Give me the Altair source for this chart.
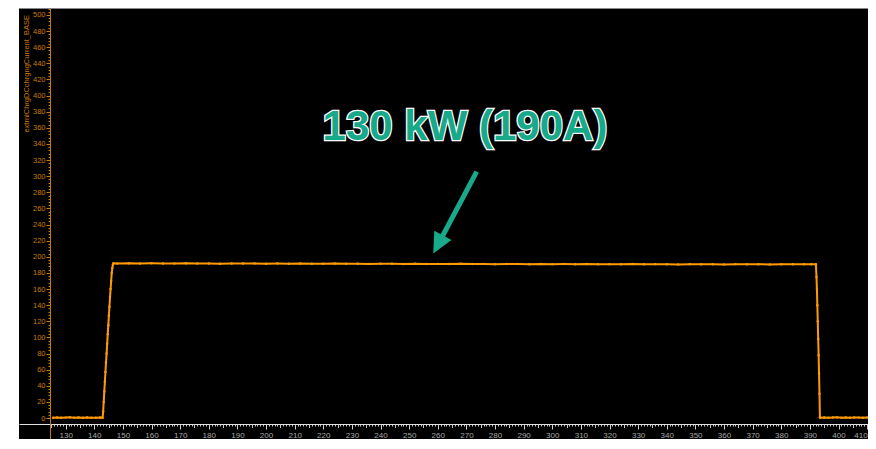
import altair as alt
import pandas as pd

# ---- data ----
time_s = [125.6, 127, 128.5, 130, 131.5, 133, 134.5, 136, 137.5, 139, 140.5, 142, 142.9,
          143.1, 143.3, 143.5, 143.7, 143.9, 144.1, 144.3, 144.5, 144.7, 144.9, 145.1, 145.3,
          145.5, 145.7, 145.9, 146.1, 146.3, 146.5, 146.7,
          148, 152, 156, 160, 164, 168, 172, 176, 180, 184, 188, 192, 196, 200, 204, 208, 212,
          216, 220, 224, 228, 232, 236, 240, 244, 248, 252, 256, 260, 264, 268, 272, 276, 280,
          284, 288, 292, 296, 300, 304, 308, 312, 316, 320, 324, 328, 332, 336, 340, 344, 348,
          352, 356, 360, 364, 368, 372, 376, 380, 384, 388, 390.5, 392.1,
          392.3, 392.45, 392.6, 392.75, 392.9, 393.05, 393.2, 393.35, 393.5,
          393.6, 395, 396.5, 398, 399.5, 401, 402.5, 404, 405.5, 407, 408.5, 410]
current_a = [0.3, 0.6, 0.2, 0.5, 0.8, 0.3, 0.6, 0.2, 0.7, 0.4, 0.3, 0.6, 0.2,
             8, 20, 33, 45, 57, 69, 80, 92, 104, 115, 127, 138,
             150, 160, 170, 180, 186, 190, 192,
             191.8, 192.0, 191.7, 191.9, 191.8, 191.6, 191.9, 191.7, 191.8, 191.5, 191.7, 191.6,
             191.8, 191.5, 191.6, 191.4, 191.7, 191.5, 191.4, 191.6, 191.3, 191.5, 191.2, 191.4,
             191.3, 191.1, 191.3, 191.0, 191.2, 191.1, 191.3, 191.0, 191.2, 190.9, 191.1, 191.0,
             190.8, 191.1, 190.9, 191.0, 190.8, 191.0, 190.7, 190.9, 190.8, 191.0, 190.7, 190.9,
             190.8, 190.6, 190.9, 190.7, 190.8, 190.6, 190.9, 190.7, 190.8, 190.6, 190.8, 190.7,
             190.9, 190.7, 190.8,
             175, 160, 140, 120, 98, 78, 55, 30, 1,
             0.4, 0.7, 0.3, 0.6, 0.8, 0.4, 0.6, 0.3, 0.7, 0.5, 0.4, 0.6]

x_major = list(range(130, 411, 10))
x_minor = list(range(126, 411, 1))
x_mid = list(range(125, 411, 10))
y_major = list(range(0, 501, 20))
y_minor = list(range(0, 509, 4))

y_title = ["extrnlChrgDCchrgngCurrent_BASE"]
label_text = ["130 kW (190A)"]
label_x = [269.5]
label_y = [361.1]
arrow_x = [273.6]
arrow_y = [305.6]
arrow_x2 = [260.1]
arrow_y2 = [215.3]

df = pd.DataFrame({"t": time_s, "i": current_a})
ann = pd.DataFrame({"text": label_text, "x": label_x, "y": label_y})
arr = pd.DataFrame({"x": arrow_x, "y": arrow_y, "x2": arrow_x2, "y2": arrow_y2})
ttl = pd.DataFrame({"text": y_title})

ORANGE = "#FF9A00"
AXIS_OR = "#C77C00"
TEAL = "#18A98A"
GRAY = "#A8A8A8"

xs = alt.Scale(domain=[113.7, 410.3], nice=False, zero=False)
ys = alt.Scale(domain=[-26.05, 508.68], nice=False, zero=False)

x_axis_major = alt.Axis(orient="bottom", values=x_major, offset=-15, domain=False, grid=False,
                        tickSize=5, tickColor="#D0D0D0", tickWidth=1, labelColor=GRAY,
                        labelFont="Liberation Sans", labelFontSize=8, labelPadding=2, title=None)
y_axis_major = alt.Axis(orient="left", values=y_major, offset=-31, domain=True, domainColor=AXIS_OR,
                        grid=False, tickSize=4, tickColor=AXIS_OR, labelColor=AXIS_OR,
                        labelFont="Liberation Sans", labelFontSize=7.5, labelPadding=1, title=None)

line = alt.Chart(df).mark_line(
    color=ORANGE, strokeWidth=2,
    point=alt.OverlayMarkDef(color=ORANGE, size=6, filled=True)
).encode(
    x=alt.X("t:Q", scale=xs, axis=x_axis_major),
    y=alt.Y("i:Q", scale=ys, axis=y_axis_major),
)

minor_x = alt.Chart(df).mark_point(opacity=0).encode(
    x=alt.X("t:Q", scale=xs, axis=alt.Axis(orient="bottom", values=x_minor, offset=-15, domain=True,
                                            domainColor="#E0E0E0", grid=False, tickSize=2,
                                            tickColor="#C8C8C8", labels=False, title=None)),
    y=alt.Y("i:Q", scale=ys, axis=alt.Axis(orient="left", values=y_minor, offset=-31, domain=False,
                                            grid=False, tickSize=2, tickColor=AXIS_OR,
                                            labels=False, title=None)),
)

mid_x = alt.Chart(df).mark_point(opacity=0).encode(
    x=alt.X("t:Q", scale=xs, axis=alt.Axis(orient="bottom", values=x_mid, offset=-15, domain=False,
                                            grid=False, tickSize=3.5, tickColor="#C8C8C8",
                                            labels=False, title=None)),
)

ytitle = alt.Chart(ttl).mark_text(
    angle=270, align="right", baseline="middle", fontSize=7.5, font="Liberation Sans",
    color=AXIS_OR
).encode(x=alt.value(8), y=alt.value(7), text="text:N")

outline = alt.Chart(ann).mark_text(
    font="Liberation Sans", fontWeight="bold", fontSize=42, stroke="white", strokeWidth=2.5,
    fill=TEAL, align="center", baseline="middle"
).encode(x=alt.X("x:Q", scale=xs), y=alt.Y("y:Q", scale=ys), text="text:N")

label = alt.Chart(ann).mark_text(
    font="Liberation Sans", fontWeight="bold", fontSize=42, color=TEAL,
    align="center", baseline="middle"
).encode(x=alt.X("x:Q", scale=xs), y=alt.Y("y:Q", scale=ys), text="text:N")

shaft = alt.Chart(arr).mark_rule(color=TEAL, strokeWidth=5).encode(
    x=alt.X("x:Q", scale=xs), y=alt.Y("y:Q", scale=ys), x2="x2:Q", y2="y2:Q")

head = alt.Chart(arr).mark_point(
    shape="M0,-1L0.95,1L-0.95,1Z", filled=True, color=TEAL, opacity=1, size=420, angle=208
).encode(x=alt.X("x2:Q", scale=xs), y=alt.Y("y2:Q", scale=ys))

chart = alt.layer(minor_x, mid_x, line, ytitle, shaft, head, outline, label).resolve_axis(
    x="independent", y="independent"
).properties(
    width=849, height=431, background="white",
    padding={"left": 11, "top": 0, "right": 0, "bottom": 0},
    autosize=alt.AutoSizeParams(type="none"),
).configure_view(fill="black", strokeWidth=0)

chart.save("out.html", embed_options={"renderer": "svg", "actions": False})
